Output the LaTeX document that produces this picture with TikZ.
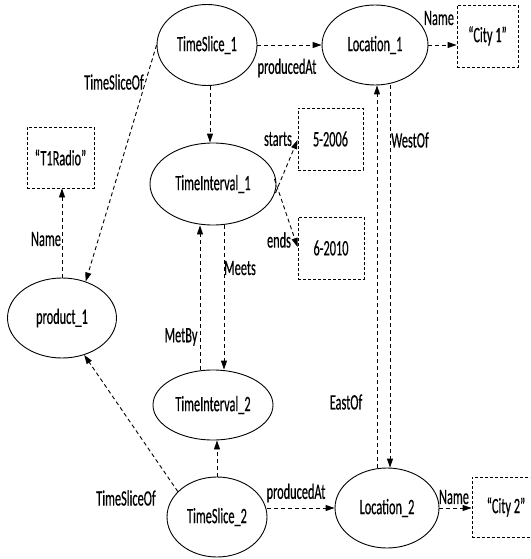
\documentclass[tikz,border=0pt]{standalone}
\usepackage{fontspec}
\setmainfont{Carlito}[FakeStretch=0.56,FakeBold=0.4]
\usetikzlibrary{arrows.meta,shapes.geometric,calc}
\tikzset{
  ent/.style={ellipse,draw,line width=0.9pt,inner sep=0pt,font=\fontsize{22}{25}\selectfont},
  lit/.style={rectangle,draw,line width=0.9pt,dash pattern=on 3pt off 2pt,inner sep=0pt,font=\fontsize{22}{25}\selectfont},
  rel/.style={line width=0.9pt,dash pattern=on 4pt off 3pt,-{Triangle[length=9pt,width=6pt]}},
  lbl/.style={inner sep=0pt,font=\fontsize{22}{25}\selectfont}
}
\begin{document}
\begin{tikzpicture}[x=1pt,y=-1pt]
\useasboundingbox (0,0) rectangle (530,559);
\clip (0,0) rectangle (530,559);
% entities
\node[ent,minimum width=100,minimum height=81] (TS1) at (207,45) {TimeSlice\_1};
\node[ent,minimum width=106,minimum height=80] (L1) at (375,45) {Location\_1};
\node[ent,minimum width=126,minimum height=82] (TI1) at (213,184) {TimeInterval\_1};
\node[ent,minimum width=120,minimum height=70] (TI2) at (213,405) {TimeInterval\_2};
\node[ent,minimum width=100,minimum height=80] (TS2) at (217,517) {TimeSlice\_2};
\node[ent,minimum width=104,minimum height=80] (L2) at (387,508) {Location\_2};
\node[ent,minimum width=109,minimum height=80] (P1) at (62,318) {product\_1};
% literals
\node[lit,minimum width=67,minimum height=61] (T1R) at (60.5,157.5) {“T1Radio”};
\node[lit,minimum width=61,minimum height=62] (C1) at (487.5,36) {“City 1”};
\node[lit,minimum width=65,minimum height=62] (D1) at (330.5,139) {5-2006\hspace{17pt}};
\node[lit,minimum width=66,minimum height=62] (D2) at (331,248) {6-2010\hspace{18pt}};
\node[lit,minimum width=68,minimum height=60] (C2) at (506,507) {“City 2”\hspace{12pt}};
% helper coordinates for vertical connectors
\coordinate (xa) at (210,0);
\coordinate (xmb) at (200,0);
\coordinate (xme) at (224,0);
\coordinate (xeo) at (377,0);
\coordinate (xwo) at (390,0);
% connectors
\draw[rel] (TS1) -- (L1);
\draw[rel] (L1.east) -- (L1.east -| C1.west);
\draw[rel] (TS1.south -| xa) -- (TI1.north -| xa);
\draw[rel] (TS1.180) -- (P1.57);
\draw[rel] (P1.north) -- (P1.north |- T1R.south);
\draw[rel] ($(TI1.east)+(-1,9)$) -- (D1.west |- 0,140);
\draw[rel] ($(TI1.east)+(-2,-5)$) -- (D2.west |- 0,247);
\draw[rel] (TI2.north -| xmb) -- (TI1.south -| xmb);
\draw[rel] (TI1.south -| xme) -- (TI2.north -| xme);
\draw[rel] (TS2.north) -- (TS2.north |- TI2.south);
\draw[rel] (TS2.147) -- (P1.-59);
\draw[rel] (TS2.east |- L2.west) -- (L2.west);
\draw[rel] (L2.east) -- (L2.east -| C2.west);
\draw[rel] (L2.north -| xeo) -- (L1.south -| xeo);
\draw[rel] (L1.south -| xwo) -- (L2.north -| xwo);
% labels
\node[lbl] (lpa1) at (287,68) {producedAt};
\node[lbl] (ln1) at (439,18) {Name};
\node[lbl] (lts1) at (114,82) {TimeSliceOf};
\node[lbl] (ln0) at (46,239) {Name};
\node[lbl] (lst) at (278,139) {starts};
\node[lbl] (len) at (279,240) {ends};
\node[lbl] (lmb) at (181,337) {MetBy};
\node[lbl] (lme) at (240,268) {Meets};
\node[lbl] (lts2) at (126,498) {TimeSliceOf};
\node[lbl] (lpa2) at (296,493) {producedAt};
\node[lbl] (ln2) at (454,497) {Name};
\node[lbl] (lwo) at (410,140) {WestOf};
\node[lbl] (leo) at (346,402) {EastOf};
\end{tikzpicture}
\end{document}
